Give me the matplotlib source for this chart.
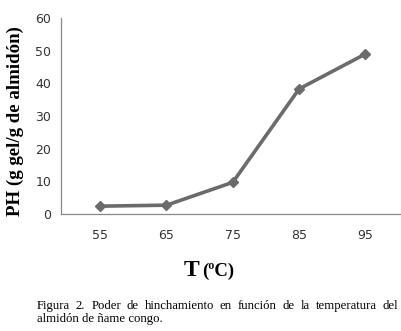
import matplotlib
matplotlib.use("Agg")
import matplotlib.pyplot as plt

temps = [55, 65, 75, 85, 95]
ph = [2.4, 2.7, 9.7, 38.3, 49.0]
yticks = [0, 10, 20, 30, 40, 50, 60]
caption1 = "Figura 2. Poder de hinchamiento en función de la temperatura del"
caption2 = "almidón de ñame congo."

fig = plt.figure(figsize=(4.02, 3.31), dpi=100)
ax = fig.add_axes([0.1517, 0.3535, 0.8433, 0.5921])
ax.plot(temps, ph, color="#6b6b6b", lw=2.6, marker="D", ms=5.5,
        markerfacecolor="#6b6b6b", markeredgecolor="#6b6b6b")
ax.set_xlim(49.1, 100.2)
ax.set_ylim(0, 60)
ax.set_xticks(temps)
ax.set_yticks(yticks)
for s in ["top", "right"]:
    ax.spines[s].set_visible(False)
for s in ["left", "bottom"]:
    ax.spines[s].set_color("#888888")
    ax.spines[s].set_linewidth(0.9)
ax.tick_params(length=0, labelsize=9, colors="#333333", pad=7)
ax.tick_params(axis="x", pad=11)

fig.text(0.037, 0.633, "PH (g gel/g de almidón)", rotation=90, ha="center", va="center",
         family="Liberation Serif", fontweight="bold", fontsize=13.6)
fig.text(0.496, 0.166, "T", ha="right", va="baseline", family="Liberation Serif",
         fontweight="bold", fontsize=17)
fig.text(0.504, 0.166, "(ºC)", ha="left", va="baseline", family="Liberation Serif",
         fontweight="bold", fontsize=13.5)

# justified first caption line
fs = 9.2
x0, x1 = 37 / 402, 398 / 402
words = caption1.split(" ")
renderer = fig.canvas.get_renderer()
texts = [fig.text(0, 0.067, w, ha="left", va="baseline", family="Liberation Serif", fontsize=fs)
         for w in words]
widths = [t.get_window_extent(renderer).width / fig.bbox.width for t in texts]
gap = (x1 - x0 - sum(widths)) / (len(words) - 1)
x = x0
for t, w in zip(texts, widths):
    t.set_x(x)
    x += w + gap
fig.text(x0, 0.028, caption2, ha="left", va="baseline", family="Liberation Serif", fontsize=fs)

fig.savefig("out.png", dpi=100)
